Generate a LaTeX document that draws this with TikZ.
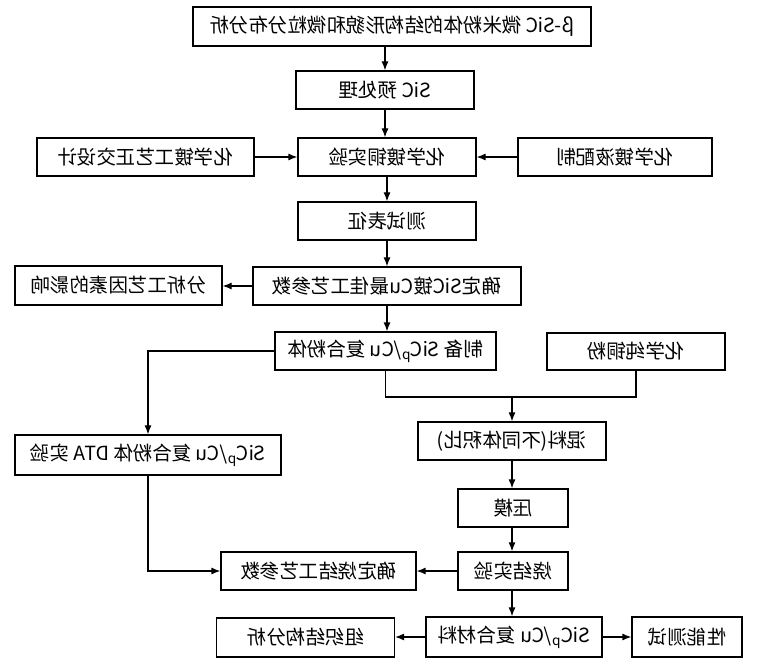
\documentclass[tikz,border=0pt]{standalone}
\usepackage{fontspec}
\usepackage{graphicx}
\setmainfont{Noto Sans CJK SC}
\usetikzlibrary{arrows.meta}
\newcommand{\mirtxt}[1]{\reflectbox{#1}}
\begin{document}
\begin{tikzpicture}[x=1pt,y=-1pt,
    box/.style={draw,line width=1.2pt,inner sep=0pt,minimum height=38pt,
      font=\fontsize{19.5}{21}\selectfont},
    arr/.style={line width=1.2pt,-{Latex[length=9pt,width=7pt]}},
    ln/.style={line width=1.2pt}]
  \useasboundingbox (0,0) rectangle (760,671);
  % main column
  \node[box,minimum width=398pt,minimum height=39pt] (top) at (392,26.5)
    {\mirtxt{β-SiC 微米粉体的结构形貌和微粒分布分析}};
  \node[box,minimum width=178pt] (pre) at (385,90) {\mirtxt{SiC 预处理}};
  \node[box,minimum width=217pt] (ortho) at (145.5,157) {\mirtxt{化学镀工艺正交设计}};
  \node[box,minimum width=178pt] (plate) at (387,157) {\mirtxt{化学镀铜实验}};
  \node[box,minimum width=194pt] (bath) at (615,157) {\mirtxt{化学镀液配制}};
  \node[box,minimum width=178pt] (test) at (387,221) {\mirtxt{测试表征}};
  \node[box,minimum width=207pt,minimum height=39pt] (factor) at (118.5,285.5)
    {\mirtxt{分析工艺因素的影响}};
  \node[box,minimum width=268pt] (best) at (387,286) {\mirtxt{确定SiC镀Cu最佳工艺参数}};
  \node[box,minimum width=221pt] (prep) at (385.5,351)
    {\mirtxt{制备 SiC\textsubscript{p}/Cu 复合粉体}};
  \node[box,minimum width=178pt,minimum height=37pt] (cupow) at (636,351.5)
    {\mirtxt{化学纯铜粉}};
  \coordinate (junc) at (512,397);
  % lower part
  \node[box,minimum width=266pt,minimum height=40pt] (dta) at (148,455)
    {\mirtxt{SiC\textsubscript{p}/Cu 复合粉体 DTA 实验}};
  \node[box,minimum width=188pt] (mix) at (512,441) {\mirtxt{混料(不同体积比)}};
  \node[box,minimum width=110pt] (press) at (513,508) {\mirtxt{压模}};
  \node[box,minimum width=110pt] (sinter) at (513,571) {\mirtxt{烧结实验}};
  \node[box,minimum width=195pt] (sinpar) at (318.5,571) {\mirtxt{确定烧结工艺参数}};
  \node[box,minimum width=176pt,minimum height=40pt] (comp) at (514,637)
    {\mirtxt{SiC\textsubscript{p}/Cu 复合材料}};
  \node[box,minimum width=178pt,minimum height=39pt] (micro) at (305.5,637.5)
    {\mirtxt{组织结构分析}};
  \node[box,minimum width=110pt,minimum height=40pt] (prop) at (687,637)
    {\mirtxt{性能测试}};
  % connectors
  \draw[arr] (top.south -| pre.north) -- (pre.north);
  \draw[arr] (pre.south) -- (pre.south |- plate.north);
  \draw[arr] (ortho.east) -- (plate.west);
  \draw[arr] (bath.west) -- (plate.east);
  \draw[arr] (plate.south) -- (test.north);
  \draw[arr] (test.south) -- (best.north);
  \draw[arr] (best.west) -- (factor.east |- best.west);
  \draw[arr] (best.south) -- (prep.north -| best.south);
  \draw[ln] (prep.south) |- (junc) -| (cupow.south);
  \draw[arr] (junc) -- (mix.north -| junc);
  \draw[arr] (prep.west) -| (dta.north);
  \draw[arr] (dta.south) |- (sinpar.west);
  \draw[arr] (mix.south -| junc) -- (press.north -| junc);
  \draw[arr] (press.south -| junc) -- (sinter.north -| junc);
  \draw[arr] (sinter.west) -- (sinpar.east);
  \draw[arr] (sinter.south -| junc) -- (comp.north -| junc);
  \draw[arr] (comp.west) -- (micro.east |- comp.west);
  \draw[arr] (comp.east) -- (prop.west);
\end{tikzpicture}
\end{document}
